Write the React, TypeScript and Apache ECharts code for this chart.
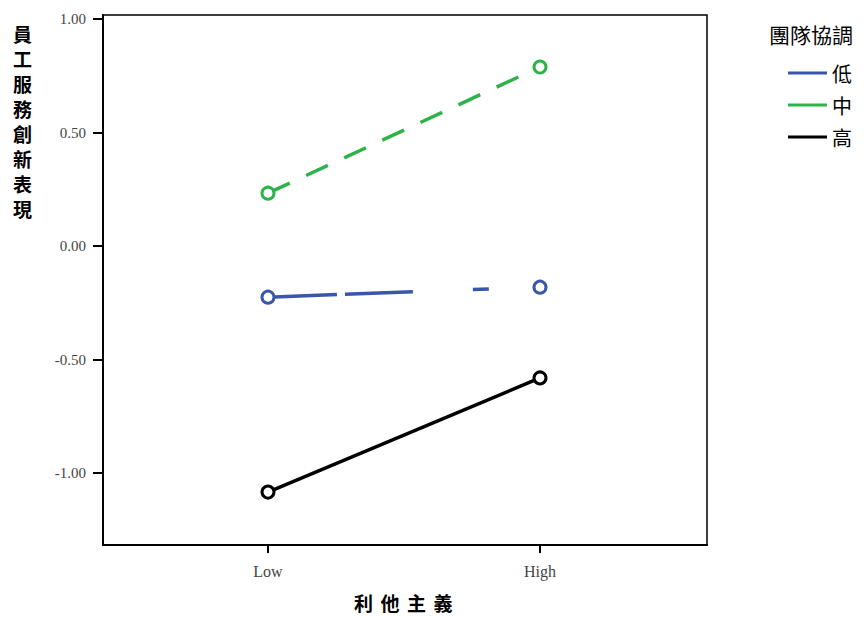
import React, { useEffect, useRef } from "react";
import * as echarts from "echarts";

const xLabels = ["Low", "High"];
const xPositions = [0, 1];
const groupNames = ["低", "中", "高"];
const lowValues = [-0.225, -0.181];
const midValues = [0.233, 0.789];
const highValues = [-1.084, -0.581];
const yTicks = [-1, -0.5, 0, 0.5, 1];
const yAxisTitle = ["員", "工", "服", "務", "創", "新", "表", "現"];
const xAxisTitle = ["利", "他", "主", "義"];
const legendTitle = "團隊協調";

const BLUE = "#3A56A8";
const GREEN = "#2DB34A";
const BLACK = "#000000";

export default function App() {
  const ref = useRef<HTMLDivElement>(null);
  useEffect(() => {
    if (!ref.current) return;
    const chart = echarts.init(ref.current, null, { renderer: "svg" });
    const mk = (vals: number[]) => xPositions.map((x, i) => [x, vals[i]]);
    const serif = "'Liberation Serif', 'DejaVu Serif', serif";
    const cjk = "'Noto Sans CJK TC', 'Noto Sans CJK SC', sans-serif";
    const seriesDefs = [
      { name: groupNames[0], data: lowValues, color: BLUE, dash: [69, 8, 68, 60, 16, 60] as any },
      { name: groupNames[1], data: midValues, color: GREEN, dash: [24, 18] as any },
      { name: groupNames[2], data: highValues, color: BLACK, dash: "solid" as any },
    ];
    chart.setOption({
      animation: false,
      grid: {
        left: 103,
        top: 15,
        width: 604,
        height: 530,
        show: true,
        borderColor: "#000",
        borderWidth: 1.5,
        backgroundColor: "transparent",
      },
      xAxis: {
        type: "value",
        min: -0.6066,
        max: 1.614,
        splitLine: { show: false },
        axisLine: { show: true, onZero: false, lineStyle: { color: "#000", width: 2 } },
        axisTick: { show: true, customValues: xPositions, length: 8, lineStyle: { color: "#000", width: 2 } },
        axisLabel: {
          customValues: xPositions,
          formatter: (v: number) => xLabels[xPositions.indexOf(v)] ?? "",
          fontFamily: serif,
          fontSize: 16,
          color: "#444",
          margin: 18,
        },
      },
      yAxis: {
        type: "value",
        min: -1.317,
        max: 1.018,
        splitLine: { show: false },
        axisLine: { show: true, onZero: false, lineStyle: { color: "#000", width: 2 } },
        axisTick: { show: true, customValues: yTicks, length: 10, lineStyle: { color: "#000", width: 2 } },
        axisLabel: {
          customValues: yTicks,
          formatter: (v: number) => v.toFixed(2),
          fontFamily: serif,
          fontSize: 15,
          color: "#444",
          margin: 17,
        },
      },
      legend: {
        orient: "vertical",
        left: 783,
        top: 58,
        itemGap: 12,
        itemWidth: 39,
        itemHeight: 3,
        icon: "rect",
        textStyle: { fontFamily: cjk, fontSize: 20, color: "#000" },
        data: seriesDefs.map((s) => ({
          name: s.name,
          itemStyle: { color: s.color, borderWidth: 0 },
        })),
      },
      graphic: [
        {
          type: "text",
          left: 769,
          top: 23,
          style: { text: legendTitle, font: `21px ${cjk}`, fill: "#000" },
        },
        ...yAxisTitle.map((ch, i) => ({
          type: "text",
          left: 13,
          top: 24 + i * 25,
          style: { text: ch, font: `bold 19px ${cjk}`, fill: "#000" },
        })),
        ...xAxisTitle.map((ch, i) => ({
          type: "text",
          left: 354 + i * 26.5,
          top: 593,
          style: { text: ch, font: `bold 19px ${cjk}`, fill: "#000" },
        })),
      ],
      series: seriesDefs.map((s) => ({
        name: s.name,
        type: "line",
        data: mk(s.data),
        symbol: "circle",
        symbolSize: 12,
        showSymbol: true,
        color: s.color,
        lineStyle: { color: s.color, width: 3.5, type: s.dash },
        itemStyle: { color: "#fff", borderColor: s.color, borderWidth: 3 },
        emphasis: { disabled: true },
      })),
    });
    return () => chart.dispose();
  }, []);
  return (
    <div
      ref={ref}
      style={{ position: "fixed", left: 0, top: 0, width: 865, height: 617, background: "#fff" }}
    />
  );
}
